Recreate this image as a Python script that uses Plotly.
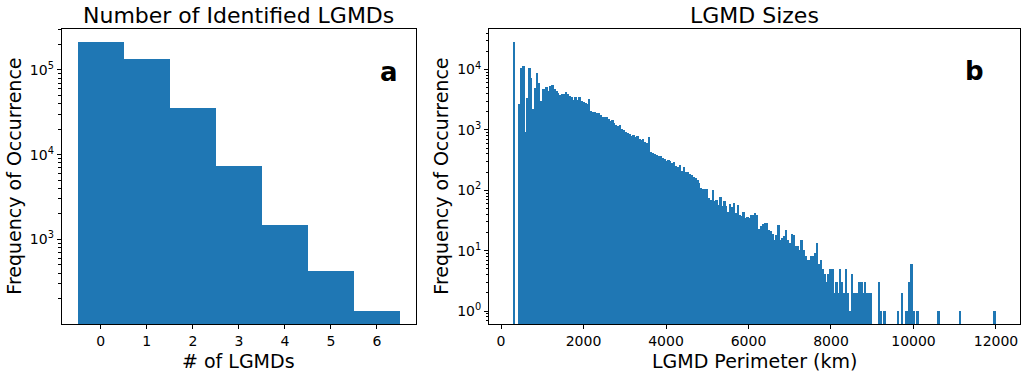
import numpy as np
import plotly.graph_objects as go

# ---------------- data ----------------
# Panel a: number of identified LGMDs
lgmd_counts = [0, 1, 2, 3, 4, 5, 6]
lgmd_freq = [212000, 132000, 35300, 7280, 1475, 415, 141]

# Panel b: LGMD perimeter histogram (250 equal bins between min and max perimeter)
perimeter_min = 294.0
perimeter_max = 11997.0
n_bins = 250
perimeter_freq = [
    28100, 0, 0, 2670, 10400, 11400, 910, 3300, 10400, 7100,
    2200, 4860, 8830, 5890, 3030, 4680, 4680, 5050, 4440, 5310,
    5520, 4680, 4440, 4110, 3800, 3920, 3920, 4280, 3920, 3630,
    3530, 3110, 3450, 3110, 3530, 3030, 2920, 2740, 2670, 3200,
    2070, 1995, 1923, 1875, 1875, 1758, 1610, 1648, 1610, 1493,
    1416, 1452, 1279, 1200, 1127, 1200, 1019, 993, 931, 875,
    851, 789, 820, 769, 789, 695, 678, 695, 635, 594,
    750, 434, 407, 397, 383, 368, 359, 337, 324, 308,
    316, 297, 278, 286, 252, 239, 261, 208, 245, 202,
    195, 185, 178, 162, 158, 148, 132, 107, 105, 105,
    105, 73, 69, 100, 65, 69, 57, 78, 55, 65,
    55, 44, 59, 53, 62, 41, 57, 39, 37, 44,
    34, 36, 34, 39, 39, 41, 39, 23, 25, 27,
    28, 28, 22, 21, 19, 15, 18, 26, 15, 16,
    17, 22, 15, 13, 19, 18, 12, 12, 10, 15,
    10, 8, 7, 7, 8, 8, 9, 13, 6, 7,
    5, 4, 3, 4, 5, 5, 2, 3, 2, 5,
    3, 2, 5, 2, 1, 4, 2, 2, 2, 3,
    3, 2, 3, 2, 2, 2, 0, 0, 0, 3,
    1, 0, 1, 0, 0, 0, 0, 0, 0, 1,
    0, 2, 0, 1, 1, 3, 6, 1, 0, 1,
    0, 0, 0, 0, 0, 0, 0, 0, 0, 0,
    1, 0, 0, 0, 0, 0, 0, 0, 0, 0,
    0, 1, 0, 0, 0, 0, 0, 0, 0, 0,
    0, 0, 0, 0, 0, 0, 0, 0, 0, 1,
]

left_xticks = [0, 1, 2, 3, 4, 5, 6]
right_xticks = [0, 2000, 4000, 6000, 8000, 10000, 12000]

# ---------------- figure ----------------
BLUE = "#1f77b4"
FONT = "DejaVu Sans"
W, H = 1024, 373

edges = np.linspace(perimeter_min, perimeter_max, n_bins + 1)
centers = 0.5 * (edges[:-1] + edges[1:])
bw = edges[1] - edges[0]
pf = [v if v > 0 else None for v in perimeter_freq]

fig = go.Figure()
fig.add_trace(go.Bar(x=lgmd_counts, y=lgmd_freq, width=1.0, marker=dict(color=BLUE, line=dict(width=0)),
                     xaxis="x", yaxis="y", showlegend=False))
fig.add_trace(go.Bar(x=centers, y=pf, width=bw, marker=dict(color=BLUE, line=dict(width=0)),
                     xaxis="x2", yaxis="y2", showlegend=False))

def px(x):
    return x / W

def py(y):
    return 1 - y / H

L1, R1 = 61.7, 416.0
L2, R2 = 489.0, 1020.0
T, B = 29.3, 324.0

def minor_vals(lo, hi):
    vals = []
    for d in range(lo, hi + 1):
        for m in range(2, 10):
            vals.append(m * 10.0 ** d)
    return vals

axis_common = dict(showline=True, linecolor="black", linewidth=1, mirror=True, ticks="outside",
                   ticklen=4, tickwidth=1, tickcolor="black", showgrid=False, zeroline=False,
                   automargin=False, tickfont=dict(family=FONT, size=14, color="black"))

lspan = max(lgmd_counts) - min(lgmd_counts) + 1
fig.update_layout(
    width=W, height=H, margin=dict(l=0, r=0, t=0, b=0, autoexpand=False),
    paper_bgcolor="white", plot_bgcolor="white", bargap=0,
    xaxis=dict(domain=[px(L1), px(R1)], anchor="y",
               range=[min(lgmd_counts) - 0.5 - 0.05 * lspan, max(lgmd_counts) + 0.5 + 0.05 * lspan],
               tickmode="array", tickvals=left_xticks, ticktext=[str(t) for t in left_xticks],
               **axis_common),
    yaxis=dict(domain=[py(B), py(T)], anchor="x", type="log", range=[2.0, 5.48],
               tickmode="array", tickvals=[1e3, 1e4, 1e5],
               ticktext=["10<sup>3</sup>", "10<sup>4</sup>", "10<sup>5</sup>"],
               minor=dict(ticks="outside", ticklen=2.5, tickcolor="black", tickmode="array",
                          tickvals=minor_vals(2, 5)),
               **axis_common),
    xaxis2=dict(domain=[px(L2), px(R2)], anchor="y2",
                range=[perimeter_min - 0.05 * (perimeter_max - perimeter_min),
                       perimeter_max + 0.05 * (perimeter_max - perimeter_min)],
                tickmode="array", tickvals=right_xticks, ticktext=[str(t) for t in right_xticks],
                **axis_common),
    yaxis2=dict(domain=[py(B), py(T)], anchor="x2", type="log", range=[-0.215, 4.667],
                tickmode="array", tickvals=[1, 10, 100, 1e3, 1e4],
                ticktext=["10<sup>0</sup>", "10<sup>1</sup>", "10<sup>2</sup>", "10<sup>3</sup>", "10<sup>4</sup>"],
                minor=dict(ticks="outside", ticklen=2.5, tickcolor="black", tickmode="array",
                           tickvals=[0.6, 0.7, 0.8, 0.9] + minor_vals(0, 4)),
                **axis_common),
)

def text(t, x, y, size, angle=0):
    fig.add_annotation(text=t, x=px(x), y=py(y), xref="paper", yref="paper", showarrow=False,
                       textangle=angle, font=dict(family=FONT, size=size, color="black"),
                       xanchor="center", yanchor="middle")

text("Number of Identified LGMDs", (L1 + R1) / 2, 15, 22)
text("LGMD Sizes", (L2 + R2) / 2, 15, 22)
text("<b>a</b>", 389, 72, 26)
text("<b>b</b>", 974, 71, 26)
text("# of LGMDs", (L1 + R1) / 2, 361, 19)
text("LGMD Perimeter (km)", (L2 + R2) / 2, 361, 19)
text("Frequency of Occurrence", 14, (T + B) / 2, 19, -90)
text("Frequency of Occurrence", 441, (T + B) / 2, 19, -90)

fig.write_html("out.html", config={"displayModeBar": False},
               post_script="document.body.style.margin='0px';document.body.style.overflow='hidden';")
